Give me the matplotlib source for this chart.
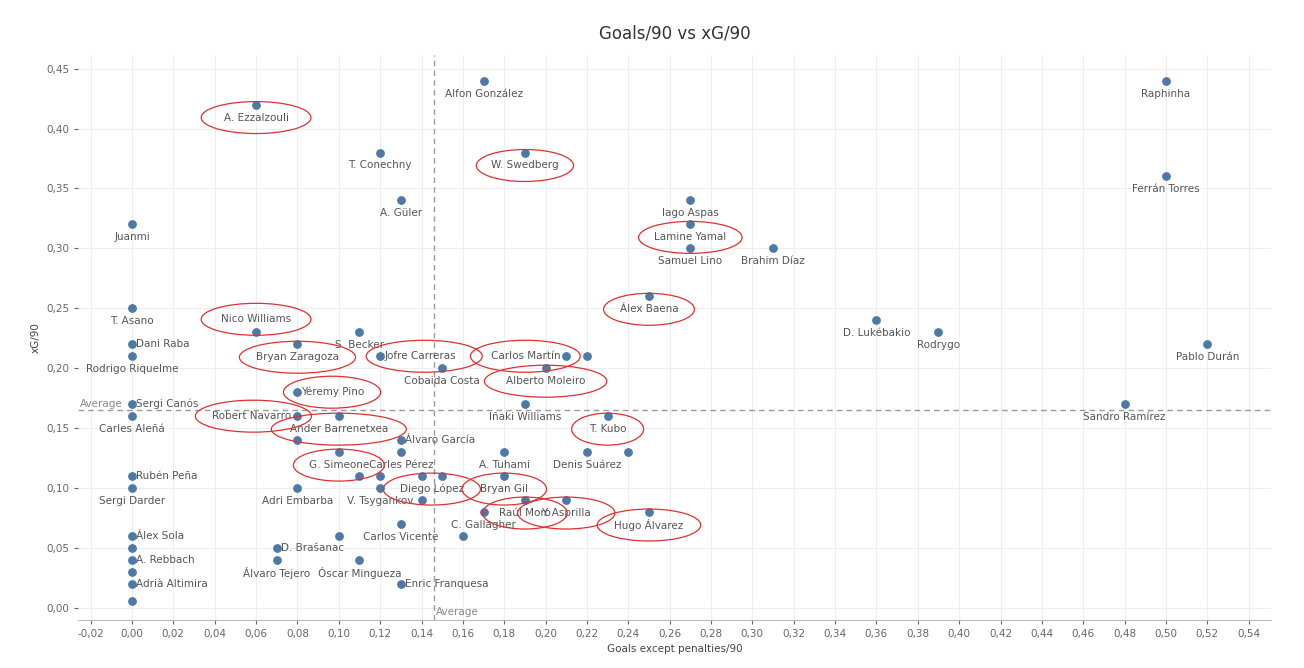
import matplotlib.pyplot as plt
from matplotlib.patches import Ellipse
from matplotlib.ticker import FuncFormatter
import numpy as np

# data: (name, goals np /90, xG/90)
names = ["Raphinha", "Ferrán Torres", "Alfon González", "A. Ezzalzouli", "T. Conechny",
         "W. Swedberg", "A. Güler", "Iago Aspas", "Lamine Yamal", "Juanmi", "Samuel Lino",
         "Brahim Díaz", "Álex Baena", "T. Asano", "D. Lukébakio", "Rodrygo", "Nico Williams",
         "S. Becker", "Dani Raba", "Bryan Zaragoza", "Pablo Durán", "Rodrigo Riquelme",
         "Jofre Carreras", "Carlos Martín", "", "Cobaida Costa", "Alberto Moleiro",
         "Yéremy Pino", "Sergi Canós", "Iñaki Williams", "Sandro Ramírez", "Carles Aleñá",
         "Robert Navarro", "Ander Barrenetxea", "T. Kubo", "", "Álvaro García", "G. Simeone",
         "Carles Pérez", "A. Tuhami", "Denis Suárez", "", "Rubén Peña", "", "", "",
         "Diego López", "Bryan Gil", "Sergi Darder", "Adri Embarba", "V. Tsygankov", "",
         "Raúl Moro", "Y. Asprilla", "Hugo Álvarez", "C. Gallagher", "Carlos Vicente", "", "",
         "Álex Sola", "", "D. Brašanac", "A. Rebbach", "Álvaro Tejero", "Óscar Mingueza", "",
         "Adrià Altimira", "Enric Franquesa", ""]
goals = [0.50, 0.50, 0.17, 0.06, 0.12, 0.19, 0.13, 0.27, 0.27, 0.00, 0.27,
         0.31, 0.25, 0.00, 0.36, 0.39, 0.06, 0.11, 0.00, 0.08, 0.52, 0.00,
         0.12, 0.21, 0.22, 0.15, 0.20, 0.08, 0.00, 0.19, 0.48, 0.00,
         0.08, 0.10, 0.23, 0.08, 0.13, 0.10, 0.13, 0.18, 0.22, 0.24, 0.00, 0.11, 0.12, 0.14,
         0.15, 0.18, 0.00, 0.08, 0.12, 0.14, 0.19, 0.21, 0.25, 0.17, 0.13, 0.10, 0.16,
         0.00, 0.00, 0.07, 0.00, 0.07, 0.11, 0.00, 0.00, 0.13, 0.00]
xg = [0.44, 0.36, 0.44, 0.42, 0.38, 0.38, 0.34, 0.34, 0.32, 0.32, 0.30,
      0.30, 0.26, 0.25, 0.24, 0.23, 0.23, 0.23, 0.22, 0.22, 0.22, 0.21,
      0.21, 0.21, 0.21, 0.20, 0.20, 0.18, 0.17, 0.17, 0.17, 0.16,
      0.16, 0.16, 0.16, 0.14, 0.14, 0.13, 0.13, 0.13, 0.13, 0.13, 0.11, 0.11, 0.11, 0.11,
      0.11, 0.11, 0.10, 0.10, 0.10, 0.09, 0.09, 0.09, 0.08, 0.08, 0.07, 0.06, 0.06,
      0.06, 0.05, 0.05, 0.04, 0.04, 0.04, 0.03, 0.02, 0.02, 0.006]
# label position: b=below, r=right, l=left, a=above
label_pos = ["b", "b", "b", "b", "b", "b", "b", "b", "b", "b", "b",
             "b", "b", "b", "b", "b", "a", "b", "r", "b", "b", "b",
             "r", "l", "", "b", "b", "r", "r", "b", "b", "b",
             "l", "b", "b", "", "r", "b", "b", "b", "b", "", "r", "", "", "",
             "b", "b", "b", "b", "b", "", "b", "b", "b", "b", "b", "", "",
             "r", "", "r", "r", "b", "b", "", "r", "r", ""]
circled = {"A. Ezzalzouli", "W. Swedberg", "Lamine Yamal", "Álex Baena", "Nico Williams",
           "Bryan Zaragoza", "Jofre Carreras", "Carlos Martín", "Alberto Moleiro",
           "Yéremy Pino", "Robert Navarro", "Ander Barrenetxea", "T. Kubo", "G. Simeone",
           "Diego López", "Bryan Gil", "Raúl Moro", "Y. Asprilla", "Hugo Álvarez"}
avg_goals = 0.146
avg_xg = 0.165

fig = plt.figure(figsize=(13.04, 6.68), dpi=100)
ax = fig.add_axes([0.06, 0.072, 0.915, 0.845])
ax.scatter(goals, xg, s=28, color="#4e79a7", zorder=3)

# scale helpers (data units per pixel)
xpp = 1 / 2070
ypp = 1 / 1200
txt = "#555555"
for n, gx, gy, p in zip(names, goals, xg, label_pos):
    if not n:
        continue
    w = len(n) * 6.3 * xpp
    if n == "Diego López":
        gx = 0.145
    if p == "b":
        tx, ty, ha = gx, gy - 13 * ypp, "center"
        cx = gx
    elif p == "a":
        tx, ty, ha = gx, gy + 13 * ypp, "center"
        cx = gx
    elif p == "r":
        tx, ty, ha = gx + 4 * xpp, gy, "left"
        cx = gx + w / 2
    else:
        tx, ty, ha = gx - 6 * xpp, gy, "right"
        cx = gx - w / 2
    ax.text(tx, ty, n, ha=ha, va="center", fontsize=7.5, color=txt, zorder=4)
    if n in circled:
        ax.add_patch(Ellipse((cx, ty), w + 28 * xpp, 32 * ypp, fill=False,
                             edgecolor="#e03030", lw=0.9, zorder=5))

ax.axvline(avg_goals, color="#999999", ls=(0, (4, 3)), lw=1)
ax.axhline(avg_xg, color="#999999", ls=(0, (4, 3)), lw=1)
ax.text(-0.025, avg_xg + 0.001, "Average", fontsize=7.5, color="#888888", va="bottom")
ax.text(avg_goals + 0.001, -0.003, "Average", fontsize=7.5, color="#888888", va="center")

ax.set_xlim(-0.026, 0.551)
ax.set_ylim(-0.01, 0.461)
ax.set_xticks(np.arange(-0.02, 0.541, 0.02))
ax.set_yticks(np.arange(0, 0.451, 0.05))
fmt = FuncFormatter(lambda v, _: f"{v:.2f}".replace(".", ",").replace("-0,00", "0,00"))
ax.xaxis.set_major_formatter(fmt)
ax.yaxis.set_major_formatter(fmt)
ax.tick_params(labelsize=7.5, colors="#666666", length=3)
ax.grid(color="#eeeeee", lw=0.8)
ax.set_axisbelow(True)
for s in ["top", "right", "left"]:
    ax.spines[s].set_visible(False)
ax.spines["bottom"].set_color("#bbbbbb")
ax.set_xlabel("Goals except penalties/90", fontsize=7.5, color="#444444")
ax.set_ylabel("xG/90", fontsize=7.5, color="#444444")
ax.set_title("Goals/90 vs xG/90", fontsize=12, color="#333333", pad=12)

fig.savefig("out.png", dpi=100)
